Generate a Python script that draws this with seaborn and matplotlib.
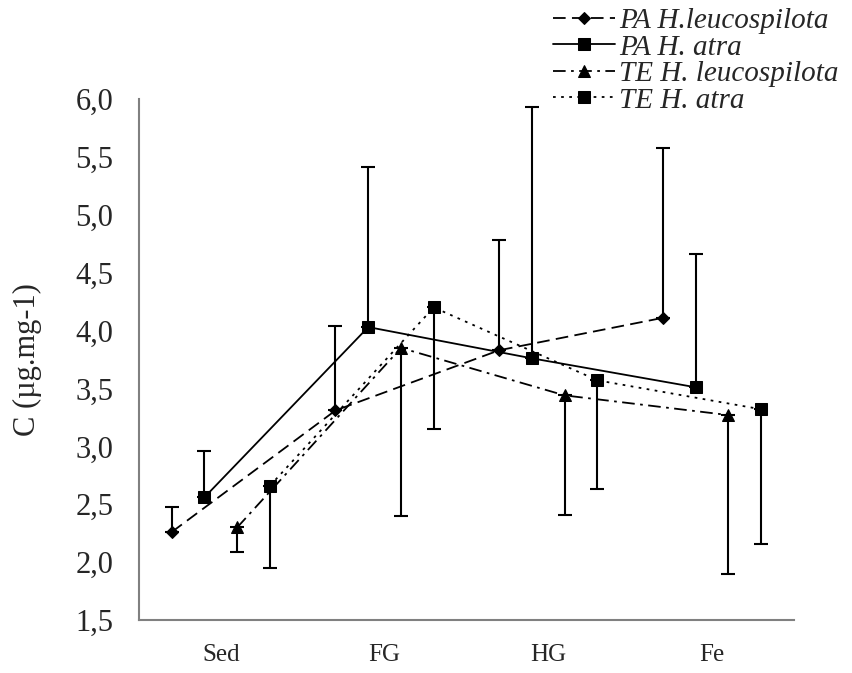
import numpy as np
import pandas as pd
import matplotlib
matplotlib.use("Agg")
import matplotlib.pyplot as plt
import seaborn as sns

# categories on the x axis
categories = ["Sed", "FG", "HG", "Fe"]
series_names = ["PA H.leucospilota", "PA H. atra", "TE H. leucospilota", "TE H. atra"]

# mean values
pa_leuco = [2.26, 3.31, 3.83, 4.11]
pa_atra = [2.56, 4.03, 3.76, 3.51]
te_leuco = [2.30, 3.85, 3.44, 3.27]
te_atra = [2.66, 4.20, 3.57, 3.32]

# error bars (PA ones drawn upward, TE ones downward)
pa_leuco_err = [0.22, 0.73, 0.95, 1.47]
pa_atra_err = [0.40, 1.38, 2.17, 1.15]
te_leuco_err = [0.21, 1.45, 1.03, 1.37]
te_atra_err = [0.71, 1.05, 0.94, 1.16]

y_ticks = [1.5, 2.0, 2.5, 3.0, 3.5, 4.0, 4.5, 5.0, 5.5, 6.0]

sns.set_style("white")
plt.rcParams['font.family'] = ['Liberation Serif', 'DejaVu Serif']

values = [pa_leuco, pa_atra, te_leuco, te_atra]
errors = [pa_leuco_err, pa_atra_err, te_leuco_err, te_atra_err]
up = [True, True, False, False]
markers = ["D", "s", "^", "s"]
msizes = [6, 9, 8.5, 9]
styles = [(0, (7, 3.5)), "-", (0, (7, 3, 1.5, 3)), (0, (1.5, 3))]

fig = plt.figure(figsize=(8.53, 6.73), dpi=100)
ax = fig.add_axes([139 / 853, 53 / 673, 655 / 853, 521 / 673])

idx = np.arange(len(categories))
handles = []
for j, name in enumerate(series_names):
    xs = idx + 0.2 * (j + 1)
    df = pd.DataFrame({"x": xs, "y": values[j]})
    sns.lineplot(data=df, x="x", y="y", ax=ax, color="black", linestyle=styles[j],
                 marker=markers[j], markersize=msizes[j], markeredgecolor="black",
                 linewidth=1.3, sort=False, label=name, legend=False)
    handles.append(ax.lines[-1])
    err = np.array(errors[j])
    yerr = [np.zeros_like(err), err] if up[j] else [err, np.zeros_like(err)]
    ax.errorbar(xs, values[j], yerr=yerr, fmt="none", ecolor="black",
                elinewidth=1.5, capsize=5, capthick=1.5, zorder=1)

ax.set_xlim(0, 4)
ax.set_ylim(1.5, 6.0)
ax.set_yticks(y_ticks)
ax.set_yticklabels([f"{t:.1f}".replace(".", ",") for t in y_ticks], fontsize=22)
ax.set_xticks(np.arange(5))
ax.set_xticklabels([])
ax.set_xticks(idx + 0.5, minor=True)
ax.set_xticklabels(categories, minor=True, fontsize=18)
ax.tick_params(axis="x", which="major", length=7, width=1.2, color="#808080", direction="out")
ax.tick_params(axis="x", which="minor", length=0, pad=17)
ax.tick_params(axis="y", length=7.5, width=1.2, color="#808080", direction="out", pad=11)
ax.set_xlabel("")
ax.set_ylabel("C (µg.mg-1)", fontsize=22, labelpad=24)

for side in ["top", "right"]:
    ax.spines[side].set_visible(False)
for side in ["left", "bottom"]:
    ax.spines[side].set_color("#808080")
    ax.spines[side].set_linewidth(1.5)

fig.legend(handles, series_names, loc="upper right", bbox_to_anchor=(1.0, 1.01),
           frameon=False, handlelength=2.1, labelspacing=0.0, handletextpad=0.15,
           borderaxespad=0.1, prop={"family": "Liberation Serif", "style": "italic", "size": 21})

fig.savefig("out.png", dpi=100)
